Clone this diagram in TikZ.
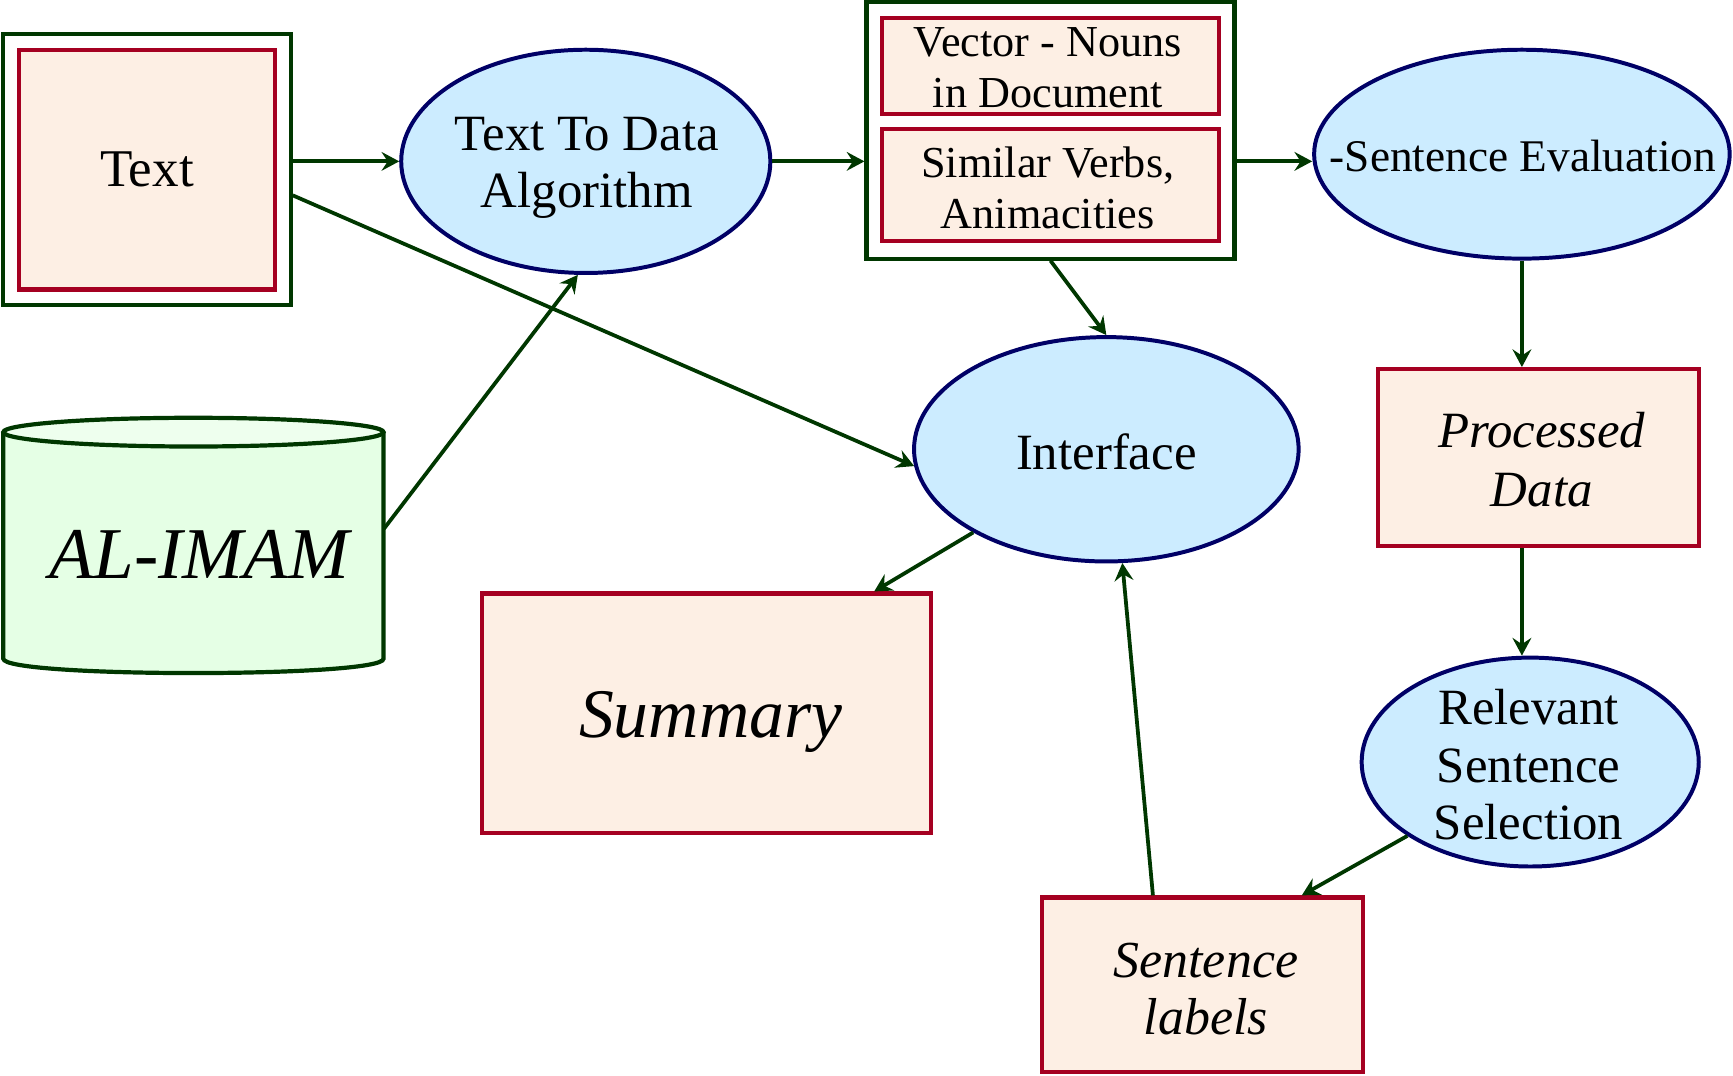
\documentclass[tikz,border=0pt]{standalone}
\usepackage{fontspec}
\setmainfont{Liberation Serif}
\usetikzlibrary{shapes.geometric,arrows.meta,calc}

\definecolor{edgegreen}{RGB}{0,55,0}
\definecolor{boxred}{RGB}{165,0,33}
\definecolor{peach}{RGB}{253,239,228}
\definecolor{skyfill}{RGB}{204,236,255}
\definecolor{navyline}{RGB}{0,0,102}
\definecolor{mint}{RGB}{229,255,229}
\definecolor{mintlight}{RGB}{238,255,238}

\begin{document}
\begin{tikzpicture}[x=0.5pt,y=-0.5pt,
  outerbox/.style={draw=edgegreen, line width=1.9pt, fill=white, rectangle, inner sep=0pt},
  itembox/.style={draw=boxred, line width=1.9pt, fill=peach, rectangle, inner sep=0pt, align=center},
  stage/.style={draw=navyline, line width=1.8pt, fill=skyfill, ellipse, inner sep=0pt},
  lbl/.style={inner sep=0pt, align=center},
  flow/.style={draw=edgegreen, line width=1.7pt, -{Stealth[length=8pt,width=8.5pt,inset=2.8pt]}},
]
\useasboundingbox (0,0) rectangle (1568,973);

% input text
\node[outerbox, minimum width=130pt, minimum height=122.5pt] (textout) at (133,153.5) {};
\node[itembox, minimum width=116pt, minimum height=108.5pt,
      font=\fontsize{24}{27}\selectfont] (textin) at (133,153.5) {Text};

% conversion stage
\node[stage, minimum width=167pt, minimum height=101pt] (ttd) at (530,146) {};
\node[lbl, font=\fontsize{23}{26}\selectfont] (ttdt) at (531,152) {Text To Data\\Algorithm};

% feature vectors
\node[outerbox, minimum width=166.5pt, minimum height=116pt] (vecout) at (950.5,118) {};
\node[itembox, minimum width=152.5pt, minimum height=43.5pt] (nouns) at (950.5,59.5) {};
\node[lbl, font=\fontsize{20}{23}\selectfont] (nounst) at (948,61) {Vector - Nouns\\in Document};
\node[itembox, minimum width=152.5pt, minimum height=50.5pt] (verbs) at (950.5,167.5) {};
\node[lbl, font=\fontsize{20}{23}\selectfont] (verbst) at (948,170) {Similar Verbs,\\Animacities};

% evaluation
\node[stage, minimum width=188pt, minimum height=94.5pt] (seval) at (1377,139.5) {};
\node[lbl, font=\fontsize{20.5}{24}\selectfont] (sevalt) at (1378,141) {-Sentence Evaluation};

% interface
\node[stage, minimum width=174pt, minimum height=101.5pt] (iface) at (1001,406.5) {};
\node[lbl, font=\fontsize{23}{26}\selectfont] (ifacet) at (1001,409) {Interface};

% corpus cylinder
\fill[mint] (3,391) -- (3,596) .. controls (3,613.3) and (347,613.3) .. (347,596) -- (347,391) -- cycle;
\draw[edgegreen, line width=1.9pt] (3,391) -- (3,596) .. controls (3,613.3) and (347,613.3) .. (347,596) -- (347,391);
\draw[edgegreen, line width=1.9pt, fill=mintlight] (175,391) ellipse [x radius=172, y radius=13];
\node[inner sep=0pt, minimum width=172pt, minimum height=115.5pt] (imam) at (175,493.5) {};
\node[lbl, font=\fontsize{33}{36}\selectfont\itshape] (imamt) at (180,502) {AL-IMAM};

% results
\node[itembox, minimum width=145pt, minimum height=80pt] (pd) at (1392,414) {};
\node[lbl, font=\fontsize{23}{26.5}\selectfont\itshape] (pdt) at (1395,416) {Processed\\Data};
\node[stage, minimum width=152.5pt, minimum height=94.5pt] (rss) at (1384.5,689.5) {};
\node[lbl, font=\fontsize{23}{26}\selectfont] (rsst) at (1383,692) {Relevant\\Sentence\\Selection};
\node[itembox, minimum width=145pt, minimum height=79pt] (sl) at (1088,891) {};
\node[lbl, font=\fontsize{23.5}{25.5}\selectfont\itshape] (slt) at (1091,895) {Sentence\\labels};
\node[itembox, minimum width=203pt, minimum height=108.5pt] (sum) at (639,645.5) {};
\node[lbl, font=\fontsize{31.5}{34}\selectfont\itshape] (sumt) at (643,653) {Summary};

% connectors
\draw[flow] (textout.east |- ttd.west) -- (ttd.west);
\draw[flow] (textout.-10) -- (iface.185);
\draw[flow] (imam.5) -- (ttd.266);
\draw[flow] (ttd.east) -- (ttd.east -| vecout.west);
\draw[flow] (vecout.east |- ttd.east) -- (seval.west |- ttd.east);
\draw[flow] (vecout.south) -- (iface.north);
\draw[flow] (seval.south) -- (seval.south |- pd.north);
\draw[flow] (seval.south |- pd.south) -- (seval.south |- rss.north);
\draw[flow] (rss.211.5) -- (sl.42);
\draw[flow] (sl.119) -- (iface.278);
\draw[flow] (iface.212) -- (sum.36.6);
\end{tikzpicture}
\end{document}
